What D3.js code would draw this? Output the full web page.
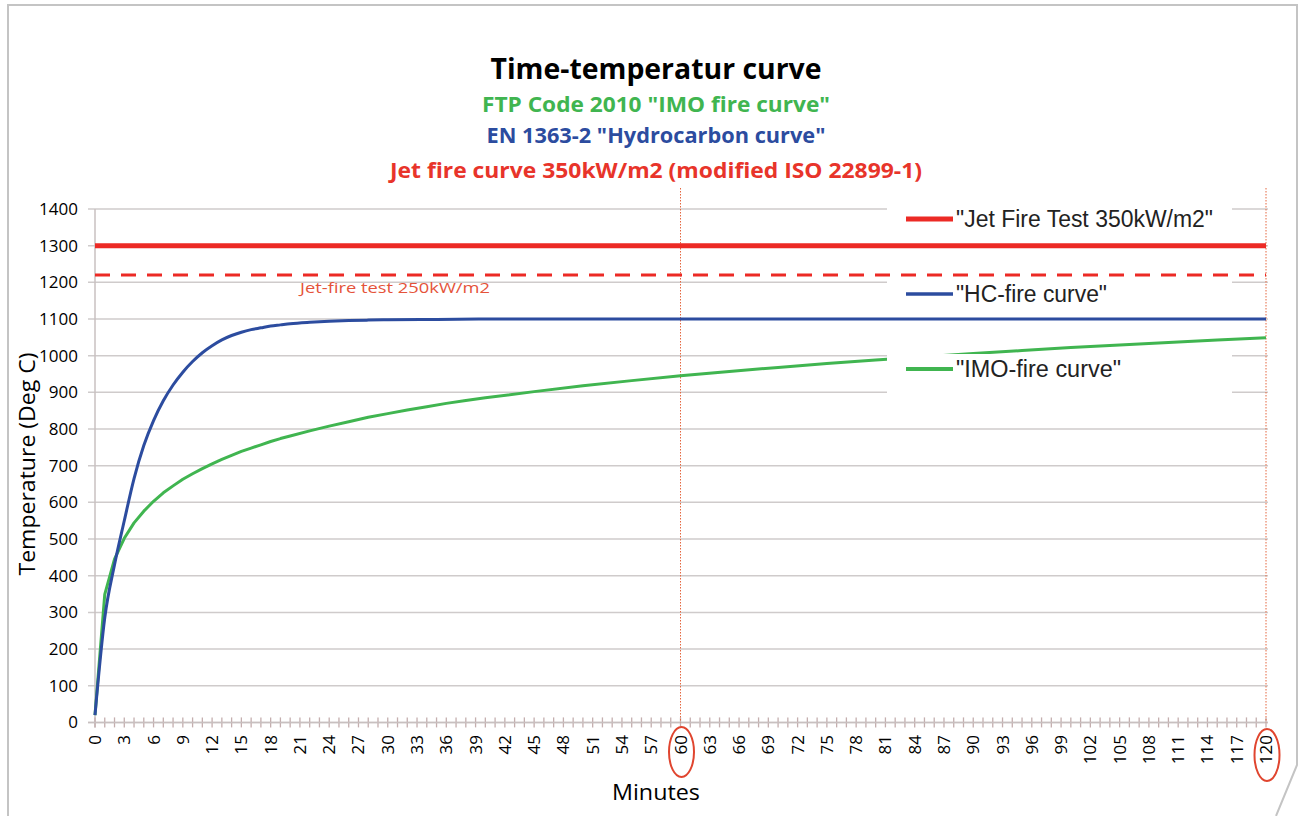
<!DOCTYPE html>
<html><head><meta charset="utf-8">
<script src="https://cdn.jsdelivr.net/npm/d3@7"></script>
<style>html,body{margin:0;padding:0;background:#fff;}svg{display:block;}</style>
</head><body>
<svg id="c" width="1302" height="816"></svg>
<script>
// ---- data ----
const hcMinutes = [0,1,2,3,4,5,6,7,8,9,10,11,12,13,14,15,16,17,18,19,20,22,24,26,28,30,35,40,60,120];
const hcTemp    = [20,285,430,550,665,755,823,877,920,955,984,1008,1027,1043,1055,1064,1071,1076,1081,1084,1087,1091,1094,1096,1097,1098,1099,1100,1100,1100];
const imoMinutes = [0,1,2,3,4,5,6,7,8,9,10,11,12,13,14,15,16,17,18,19,20,22,24,26,28,30,32,34,36,38,40,45,50,55,60,65,70,75,80,85,90,95,100,105,110,115,120];
const imoTemp    = [20,349,445,502,544,576,603,626,645,663,678,692,705,717,728,739,748,757,766,774,781,795,808,820,832,842,852,861,870,878,885,902,918,932,945,957,968,979,988,997,1006,1014,1022,1029,1036,1043,1049];
const jetMinutes = [0,120];
const jet350Temp = [1300,1300];
const jet250Temp = [1220,1220];
const markMinutes = [60,120];
const yTicks = [0,100,200,300,400,500,600,700,800,900,1000,1100,1200,1300,1400];
const xTickLabels = d3.range(0,121,3);
const xMinorTicks = d3.range(0,121,1);
const titles = ["Time-temperatur curve",'FTP Code 2010 "IMO fire curve"','EN 1363-2 "Hydrocarbon curve"',"Jet fire curve 350kW/m2 (modified ISO 22899-1)"];
const legendLabels = ['"Jet Fire Test 350kW/m2"','"HC-fire curve"','"IMO-fire curve"'];

// ---- layout ----
const svg = d3.select("#c");
const RED = "#ec2a25", BLUE = "#2c4c9f", GREEN = "#40b550", GRID = "#cfcbcb";
const x = d3.scaleLinear().domain([0,120]).range([95,1266]);
const y = d3.scaleLinear().domain([0,1400]).range([722.4,209]);
const CAL = "'Open Sans', 'Noto Sans', sans-serif";
const ARIAL = "'Liberation Sans', Arial, sans-serif";

// frame
svg.append("path").attr("d","M8,816 L8,5 L1297,5 L1297,765 L1276,816")
  .attr("fill","none").attr("stroke","#c4c4c4").attr("stroke-width",2);

// titles
const tSpec = [
  {y:79, size:28, color:"#000", w:331},
  {y:112, size:22, color:GREEN, w:348},
  {y:143, size:22, color:BLUE, w:339},
  {y:178, size:22, color:"#e8342a", w:532}
];
titles.forEach((t,i)=>{
  svg.append("text").attr("x",656).attr("y",tSpec[i].y).attr("text-anchor","middle")
    .attr("font-family",CAL).attr("font-weight","bold").attr("font-size",tSpec[i].size)
    .attr("fill",tSpec[i].color).attr("textLength",tSpec[i].w).attr("lengthAdjust","spacingAndGlyphs")
    .text(t);
});

// gridlines
svg.append("g").selectAll("line").data(yTicks).join("line")
  .attr("x1",88).attr("x2",1268).attr("y1",d=>y(d)).attr("y2",d=>y(d))
  .attr("stroke",GRID).attr("stroke-width",1.5);
// y axis line
svg.append("line").attr("x1",95).attr("x2",95).attr("y1",y(1400)).attr("y2",y(0)+5)
  .attr("stroke","#c8c0c0").attr("stroke-width",1.5);

// y tick labels
svg.append("g").selectAll("text").data(yTicks).join("text")
  .attr("x",78).attr("y",d=>y(d)+6).attr("text-anchor","end")
  .attr("font-family",CAL).attr("font-size",17).attr("fill","#000").text(d=>d);

// x ticks
svg.append("g").selectAll("line").data(xMinorTicks).join("line")
  .attr("x1",d=>x(d)).attr("x2",d=>x(d)).attr("y1",y(0)-5).attr("y2",y(0)+5)
  .attr("stroke","#c4aeae").attr("stroke-width",1.3);
svg.append("line").attr("x1",88).attr("x2",1268).attr("y1",y(0)).attr("y2",y(0))
  .attr("stroke","#c8c0c0").attr("stroke-width",1.5);
svg.append("g").selectAll("text").data(xTickLabels).join("text")
  .attr("transform",d=>`translate(${x(d)+6},735) rotate(-90)`)
  .attr("text-anchor","end").attr("font-family",CAL).attr("font-size",17).attr("fill","#000").text(d=>d);

// axis titles
svg.append("text").attr("transform","translate(35,464) rotate(-90)").attr("text-anchor","middle")
  .attr("font-family",CAL).attr("font-size",22).attr("fill","#000")
  .attr("textLength",223).attr("lengthAdjust","spacingAndGlyphs").text("Temperature (Deg C)");
svg.append("text").attr("x",656).attr("y",800).attr("text-anchor","middle")
  .attr("font-family",CAL).attr("font-size",22).attr("fill","#000")
  .attr("textLength",88).attr("lengthAdjust","spacingAndGlyphs").text("Minutes");

// vertical dotted marker lines
svg.append("g").selectAll("line").data(markMinutes).join("line")
  .attr("x1",d=>x(d)).attr("x2",d=>x(d)).attr("y1",188).attr("y2",y(0))
  .attr("stroke","#e4663f").attr("stroke-width",1).attr("stroke-dasharray","1.5,1.5");

// green line (under legend boxes)
const line = d3.line().x(d=>x(d[0])).y(d=>y(d[1]));
const smooth = d3.line().x(d=>x(d[0])).y(d=>y(d[1])).curve(d3.curveMonotoneX);
svg.append("path").datum(d3.zip(imoMinutes,imoTemp)).attr("d",line)
  .attr("fill","none").attr("stroke",GREEN).attr("stroke-width",3).attr("stroke-linejoin","round");

// legend background boxes
[[200,236],[262,308],[354,398]].forEach(b=>{
  svg.append("rect").attr("x",887).attr("y",b[0]).attr("width",345).attr("height",b[1]-b[0]).attr("fill","#fff");
});

// jet 250 dashed
svg.append("path").datum(d3.zip(jetMinutes,jet250Temp)).attr("d",line)
  .attr("fill","none").attr("stroke",RED).attr("stroke-width",3).attr("stroke-dasharray","15,11");
svg.append("text").attr("x",300).attr("y",293).attr("font-family",CAL).attr("font-size",15)
  .attr("fill","#e5533a").attr("textLength",190).attr("lengthAdjust","spacingAndGlyphs").text("Jet-fire test 250kW/m2");
// jet 350
svg.append("path").datum(d3.zip(jetMinutes,jet350Temp)).attr("d",line)
  .attr("fill","none").attr("stroke",RED).attr("stroke-width",5);
// HC
svg.append("path").datum(d3.zip(hcMinutes,hcTemp)).attr("d",smooth)
  .attr("fill","none").attr("stroke",BLUE).attr("stroke-width",3).attr("stroke-linejoin","round");

// legend
const leg = [
  {c:RED, w:5, ly:219, ty:227, tw:257},
  {c:BLUE, w:3.5, ly:294, ty:302, tw:151},
  {c:GREEN, w:4, ly:369, ty:377, tw:165}
];
legendLabels.forEach((t,i)=>{
  svg.append("line").attr("x1",906).attr("x2",953).attr("y1",leg[i].ly).attr("y2",leg[i].ly)
    .attr("stroke",leg[i].c).attr("stroke-width",leg[i].w);
  svg.append("text").attr("x",956).attr("y",leg[i].ty).attr("font-family",ARIAL).attr("font-size",23)
    .attr("fill","#222").attr("textLength",leg[i].tw).attr("lengthAdjust","spacingAndGlyphs").text(t);
});

// red ellipses around 60 and 120 labels
svg.append("g").selectAll("ellipse").data(markMinutes).join("ellipse")
  .attr("cx",d=>x(d)+1).attr("cy",d=>d===120?755:752).attr("rx",12.5).attr("ry",d=>d===120?26:25)
  .attr("fill","none").attr("stroke","#e0452f").attr("stroke-width",2);
</script>
</body></html>
